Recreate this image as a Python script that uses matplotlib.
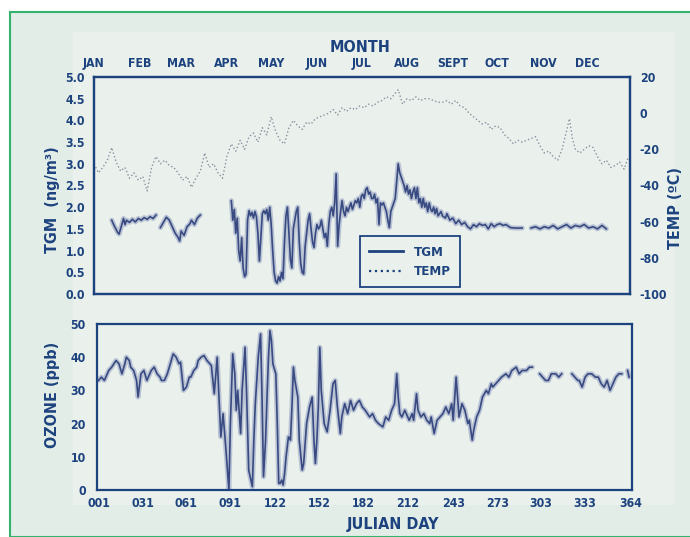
import numpy as np
import matplotlib
matplotlib.use('Agg')
import matplotlib.pyplot as plt
from matplotlib.lines import Line2D
from matplotlib.patches import Rectangle

nan = np.nan

# TGM (ng/m3) by julian day, nan = gap in record
tgm_day = [13, 15, 17, 18, 19, 20, 21, 22, 23, 25, 27, 29, 31, 33, 35, 37, 39, 41, 43, 44,
           46, 48, 50, 52, 54, 56, 58, 59, 60, 62, 64, 66, 67, 69, 71, 73, 74,
           94, 95, 96, 97, 98, 99, 100, 101, 102, 103, 104, 105, 106, 107, 108, 109, 110, 111,
           112, 113, 114, 115, 116, 117, 118, 119, 120, 121, 122, 123, 124, 125, 126, 127, 128,
           129, 130, 131, 132, 133, 134, 135, 136, 137, 138, 139, 140, 141, 142, 143, 144, 145,
           146, 147, 148, 149, 150, 151, 152, 153, 154, 155, 156, 157, 158, 159, 160, 161, 162,
           163, 164, 165, 166, 167, 168, 169, 170, 171, 172, 173, 174, 175, 176, 177, 178, 179,
           180, 181, 182, 183, 184, 185, 186, 187, 188, 189, 190, 191, 192, 193, 194, 195, 196,
           197, 198, 199, 200, 201, 202, 203, 204, 205, 206, 207, 208, 209, 210, 211, 212, 213,
           214, 215, 216, 217, 218, 219, 220, 221, 222, 223, 224, 225, 226, 227, 228, 229, 230,
           231, 232, 233, 234, 236, 237, 239, 240, 242, 244, 246, 248, 250, 252, 254, 256, 258,
           260, 262, 264, 266, 268, 270, 272, 274, 276, 278, 280, 283, 286, 289, 291, 292,
           297, 300, 303, 306, 309, 312, 315, 318, 321, 324, 327, 330, 333, 336, 339, 342, 345, 348]
tgm_val = [1.70, 1.55, 1.42, 1.38, 1.50, 1.62, 1.74, 1.60, 1.70, 1.65, 1.72, 1.66, 1.74, 1.70, 1.76, 1.72, 1.78, 1.74, 1.82, nan,
           1.53, 1.65, 1.77, 1.70, 1.55, 1.40, 1.30, 1.22, 1.45, 1.35, 1.55, 1.62, 1.70, 1.60, 1.75, 1.82, nan,
           2.15, 1.70, 1.95, 1.40, 1.75, 1.00, 0.76, 1.30, 0.60, 0.40, 0.46, 1.70, 1.92, 1.80, 1.88, 1.75, 1.90, 1.78,
           1.40, 0.76, 1.30, 1.85, 1.92, 1.85, 1.95, 1.70, 2.00, 1.60, 1.00, 0.50, 0.30, 0.25, 0.40, 0.30, 0.50,
           0.35, 1.20, 1.80, 2.00, 1.40, 0.80, 0.60, 1.50, 1.70, 1.90, 2.00, 1.20, 0.70, 0.50, 0.46, 1.10, 1.40,
           1.70, 1.85, 1.50, 1.20, 1.07, 1.40, 1.60, 1.50, 1.55, 1.70, 1.50, 1.30, 1.40, 1.10, 1.60, 1.90, 2.00,
           1.80, 2.10, 2.77, 1.10, 1.60, 1.90, 2.15, 1.90, 1.80, 2.00, 1.90, 2.00, 2.10, 1.95, 2.05, 2.15, 2.10,
           2.20, 2.00, 2.25, 2.30, 2.20, 2.40, 2.45, 2.30, 2.35, 2.20, 2.20, 2.30, 2.10, 2.20, 1.60, 2.10, 2.05,
           2.10, 2.00, 1.90, 1.70, 1.53, 1.90, 2.00, 2.10, 2.20, 2.60, 3.00, 2.80, 2.70, 2.60, 2.50, 2.35, 2.50,
           2.30, 2.40, 2.20, 2.35, 2.45, 2.20, 2.45, 2.10, 2.20, 2.00, 2.20, 2.00, 2.10, 1.90, 2.10, 1.95, 1.90,
           2.00, 1.85, 1.97, 1.80, 1.90, 1.80, 1.75, 1.85, 1.70, 1.75, 1.62, 1.70, 1.60, 1.65, 1.55, 1.50, 1.60,
           1.55, 1.62, 1.58, 1.60, 1.50, 1.62, 1.55, 1.60, 1.62, 1.58, 1.60, 1.53, 1.52, 1.52, 1.52, nan,
           1.52, 1.55, 1.50, 1.55, 1.52, 1.58, 1.50, 1.55, 1.60, 1.52, 1.58, 1.55, 1.60, 1.52, 1.55, 1.50, 1.58, 1.50]

# air temperature (deg C)
temp_day = [1, 4, 7, 10, 13, 16, 19, 22, 25, 28, 31, 34, 37, 40, 43, 46, 49, 52, 55, 58,
            61, 64, 67, 70, 73, 76, 79, 82, 85, 88, 91, 94, 97, 100, 103, 106, 109, 112, 115, 118,
            121, 124, 127, 130, 133, 136, 139, 142, 145, 148, 151, 154, 157, 160, 163, 166, 169, 172, 175, 178,
            181, 184, 187, 190, 193, 196, 199, 202, 205, 207, 210, 213, 216, 219, 222, 225, 228, 231, 234, 237,
            240, 243, 246, 249, 252, 255, 258, 261, 264, 267, 270, 273, 276, 279, 282, 285, 288, 291, 294, 297,
            300, 303, 306, 309, 312, 315, 318, 321, 323, 325, 327, 330, 333, 336, 339, 342, 345, 348, 351, 354,
            357, 360, 363]
temp_val = [-28, -33, -30, -26, -19, -27, -32, -30, -36, -33, -37, -35, -43, -30, -24, -28, -26, -29, -30, -33,
            -37, -35, -41, -36, -32, -22, -30, -28, -33, -36, -24, -17, -21, -15, -20, -13, -11, -16, -8, -12,
            -2, -10, -15, -17, -8, -4, -7, -9, -5, -6, -3, -2, -1, 0, 2, -1, 3, 1, 3, 2,
            4, 3, 5, 4, 6, 7, 9, 8, 11, 13, 5, 8, 7, 9, 7, 8, 8, 7, 6, 6,
            7, 5, 7, 4, 3, 0, -2, -4, -6, -5, -9, -7, -8, -12, -14, -17, -15, -16, -15, -14,
            -13, -18, -22, -21, -24, -26, -20, -10, -3, -14, -20, -22, -20, -18, -19, -24, -28, -26, -30, -29,
            -27, -31, -24]

# ozone (ppb)
o3_day = [1, 3, 5, 8, 10, 13, 15, 17, 19, 20, 22, 23, 25, 27, 28, 30, 32, 34, 35, 37, 39, 41, 43, 44,
          46, 48, 50, 52, 54, 56, 57, 59, 61, 63, 64, 66, 68, 69, 71, 73, 75, 78, 80, 82, 83, 84.5, 86,
          88, 90, 91, 92.6, 94, 95, 96, 98, 99, 101, 102, 103.5, 104.5, 106, 107, 108, 110, 111.6, 112.5,
          113.6, 115, 116, 117, 118, 119, 120, 122, 123, 124, 125, 126, 127, 128, 129, 130.6, 132, 133,
          134, 135, 137, 138, 140, 141, 143, 145, 146.8, 148, 149, 150, 151, 152, 153, 155, 157, 159, 161,
          162.5, 164, 166, 167, 169, 171, 173, 175, 177, 179, 181, 183, 186, 188, 190, 192, 195, 197, 199,
          201, 203, 204.5, 205.5, 206.6, 208, 210, 212, 213, 215, 216, 218, 219, 221, 223, 225, 227, 228,
          230, 232, 234, 236, 238, 240, 242, 243, 245, 246, 247, 249, 251, 253, 254, 256, 257, 259, 261,
          263, 265.6, 267, 269, 270, 272, 274, 276, 279, 281, 283, 286, 288, 290, 293, 295, 297, 299,
          302, 304, 306, 308, 310, 313, 315, 317, 319,
          324, 326, 328, 329, 331, 333, 335, 337.5, 340, 342, 344, 346, 348, 350, 352, 354, 356, 358, 360,
          362, 363]
o3_val = [33, 34, 33, 36, 37, 39, 38, 35, 38, 40, 39, 37, 36, 33, 28, 35, 36, 33, 34, 36, 37, 35, 34, 33,
          33, 35, 38, 41, 40, 38, 38.5, 30, 31, 34, 34, 36, 37, 39, 40, 40.5, 39, 37.5, 29, 40, 30, 16, 23,
          12, 0, 20, 41, 35, 24, 30, 17, 30, 43, 30, 6, 4, 1, 15, 26, 40, 47, 30,
          4, 15, 28, 40, 48, 45, 38, 35, 20, 2, 2, 3, 1.5, 5, 10, 16, 15, 25,
          37, 33, 28, 15, 6, 8, 20, 25, 28, 15, 8, 15, 25, 43, 30, 20, 17.5, 24, 32,
          33, 25, 17, 22, 26, 23, 27, 24, 26, 27, 25, 24, 22, 23, 21, 20, 19, 22, 21,
          24, 26, 35, 28, 23, 22, 24, 22, 21, 23, 21, 29, 24, 22, 23, 21, 20, 22,
          17, 21, 22, 23, 25, 23, 26, 21, 34, 28, 22, 26, 24, 20, 21, 15, 18, 22, 24,
          28, 30, 29, 32, 31, 32, 33, 34, 35, 34, 36, 37, 35, 36, 36, 37, 37, nan,
          35, 34, 33, 33, 35, 35, 34, 35, nan,
          35, 34, 33, 33, 31, 34, 35, 35, 34, 34, 32, 31, 33, 30, 32, 34, 35, 35, nan,
          36, 34]

month_names = ['JAN', 'FEB', 'MAR', 'APR', 'MAY', 'JUN', 'JUL', 'AUG', 'SEPT', 'OCT', 'NOV', 'DEC']
month_start = [1, 32, 60, 91, 121, 152, 182, 213, 244, 274, 305, 335]
day_ticks = [1, 31, 61, 91, 122, 152, 182, 212, 243, 273, 303, 333, 364]
day_labels = ['001', '031', '061', '091', '122', '152', '182', '212', '243', '273', '303', '333', '364']

navy = '#1d437f'
line_col = '#2a3d78'
temp_col = '#7f8797'
bg_outer = '#e3ede7'
bg_inner = '#eaf0ec'

plt.rcParams['font.family'] = ['DejaVu Sans']
plt.rcParams['font.stretch'] = 'condensed'
plt.rcParams['font.weight'] = 'bold'
plt.rcParams['axes.unicode_minus'] = False

W, H = 690, 537
fig = plt.figure(figsize=(W / 100, H / 100), dpi=100)
fig.patch.set_facecolor('white')


def px(x0, y0, x1, y1):
    # pixel box (top-left origin) -> figure fraction rect
    return [x0 / W, 1 - y1 / H, (x1 - x0) / W, (y1 - y0) / H]


# panel background with green frame (kept behind the axes)
fig.patches.append(Rectangle((10 / W, 0), 1.0, 1 - 12 / H, transform=fig.transFigure,
                             facecolor=bg_outer, edgecolor='#33b36e', lw=1.5, zorder=-10))
fig.patches.append(Rectangle((73 / W, 1 - 505 / H), 602 / W, 473 / H, transform=fig.transFigure,
                             facecolor=bg_inner, edgecolor='none', zorder=-9))


def style(ax):
    for s in ax.spines.values():
        s.set_color(navy)
        s.set_linewidth(1.6)
    ax.tick_params(length=0, colors=navy, labelsize=8.8)
    for lab in ax.get_xticklabels() + ax.get_yticklabels():
        lab.set_fontweight('bold')


def blur_plot(ax, x, y):
    # soft halo + core line to mimic the scanned trace
    ax.plot(x, y, color='#8a97bd', lw=3.6, alpha=0.5, solid_capstyle='round')
    ax.plot(x, y, color=line_col, lw=1.2, alpha=0.9)


# top panel: TGM and temperature
ax1 = fig.add_axes(px(94, 77, 630, 294))
ax1.set_facecolor(bg_inner)
ax1.set_xlim(1, 364)
ax1.set_ylim(0, 5)
ax1.set_yticks(np.arange(0, 5.01, 0.5))
ax1.set_yticklabels(['%.1f' % v for v in np.arange(0, 5.01, 0.5)])
ax1.xaxis.tick_top()
ax1.set_xticks(month_start)
ax1.set_xticklabels(month_names)
ax1.tick_params(axis='x', pad=5)
ax1.tick_params(axis='y', pad=6.5)
blur_plot(ax1, tgm_day, tgm_val)
style(ax1)

ax2 = ax1.twinx()
ax2.patch.set_visible(False)
ax2.set_ylim(-100, 20)
ax2.set_yticks(range(-100, 21, 20))
ax2.plot(temp_day, temp_val, color=temp_col, lw=1.0, ls=':', alpha=0.9)
ax2.tick_params(axis='y', pad=7)
style(ax2)

handles = [Line2D([], [], color=navy, lw=2),
           Line2D([], [], color=navy, lw=1.6, ls=':')]
leg = ax2.legend(handles, ['TGM', 'TEMP'], loc='lower left', bbox_to_anchor=(0.496, 0.03),
                 frameon=True, fancybox=False, borderaxespad=0, handlelength=2.6,
                 prop={'weight': 'bold', 'size': 9.5}, labelcolor=navy,
                 borderpad=0.7, labelspacing=0.5)
leg.get_frame().set_edgecolor(navy)
leg.get_frame().set_linewidth(1.3)
leg.get_frame().set_facecolor(bg_inner)
leg.get_frame().set_alpha(1)

# bottom panel: ozone
ax3 = fig.add_axes(px(97, 324, 632, 490))
ax3.set_facecolor(bg_inner)
ax3.set_xlim(0, 365)
ax3.set_ylim(0, 50)
ax3.set_yticks(range(0, 51, 10))
ax3.set_xticks(day_ticks)
ax3.set_xticklabels(day_labels)
ax3.tick_params(axis='x', pad=5)
ax3.tick_params(axis='y', pad=8)
blur_plot(ax3, o3_day, o3_val)
style(ax3)

# axis titles
fig.text(360 / W, 1 - 47 / H, 'MONTH', ha='center', va='center', color=navy, fontsize=11.5, fontweight='bold')
fig.text(52 / W, 1 - 200 / H, 'TGM  (ng/m³)', ha='center', va='center', rotation=90,
         color=navy, fontsize=11.5, fontweight='bold')
fig.text(675 / W, 1 - 208 / H, 'TEMP (ºC)', ha='center', va='center', rotation=90,
         color=navy, fontsize=11.5, fontweight='bold')
fig.text(52 / W, 1 - 395 / H, 'OZONE (ppb)', ha='center', va='center', rotation=90,
         color=navy, fontsize=11.5, fontweight='bold')
fig.text(393 / W, 1 - 525 / H, 'JULIAN DAY', ha='center', va='center', color=navy, fontsize=11.5, fontweight='bold')

fig.savefig('out.png', dpi=100)
